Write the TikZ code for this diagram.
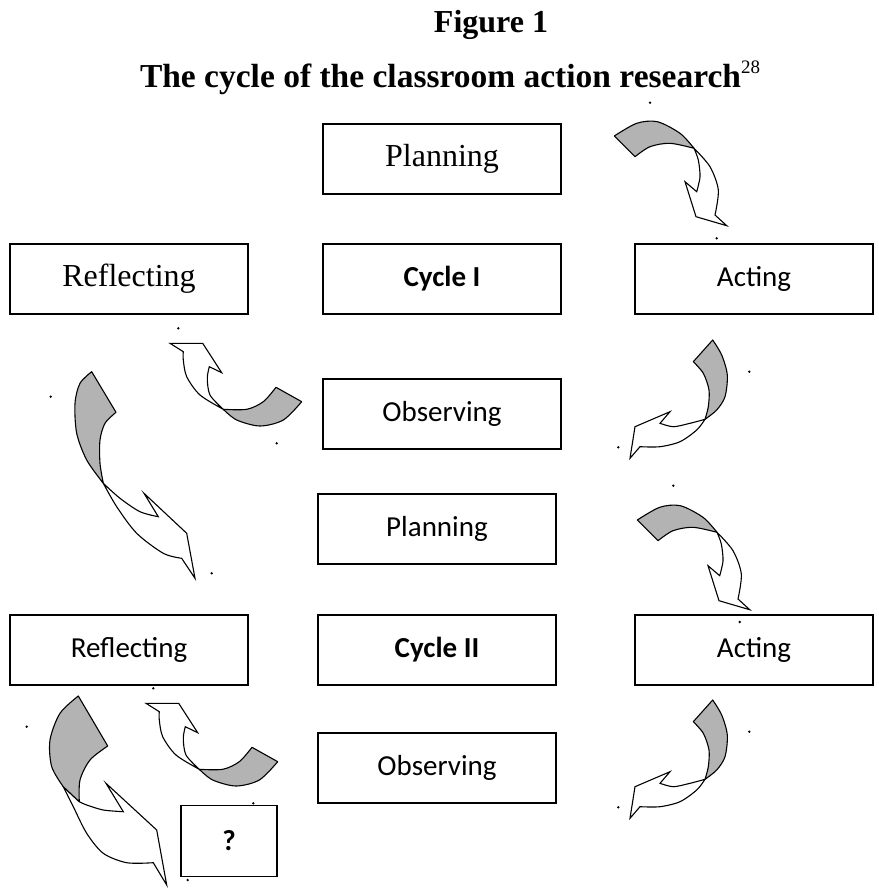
\documentclass[tikz,border=0pt]{standalone}
\usepackage{fontspec}
\setmainfont{Liberation Serif}
\newfontfamily\carlito{Carlito}
\definecolor{shade}{RGB}{179,179,179}
\tikzset{
  box/.style={draw, line width=1.3pt, minimum width=238pt, minimum height=70pt, inner sep=0pt},
  serifbox/.style={box, font=\fontsize{32}{36}\selectfont},
  sansbox/.style={box, font=\carlito\fontsize{29}{34}\selectfont},
  backside/.style={fill=shade, draw=black, line width=1.1pt, line join=round},
  frontside/.style={fill=white, draw=black, line width=1.1pt, line join=miter},
  dot/.style={fill=black}
}
\newcommand{\arrowdown}{%
  \path[frontside] (694,148.3) -- plot[smooth] coordinates {(694,148.3) (710,166.7) (718.3,190) (715,215)}
    -- (726.7,225.7) -- (696,216.7) -- (685,181.7) -- (696.7,191.7)
    -- plot[smooth] coordinates {(696.7,191.7) (700,176.7) (698.3,160) (694,148.3)} -- cycle;
  \path[backside] (614.3,136) -- plot[smooth] coordinates {(614.3,136) (636.7,123.3) (657.3,121.7) (680,133.3) (694,148.3)}
    -- plot[smooth] coordinates {(694,148.3) (670,143.3) (650,146.7) (635,156.7)} -- cycle;
}
\newcommand{\arrowup}{%
  \path[frontside] (223.3,409.3) -- plot[smooth] coordinates {(223.3,409.3) (200,395) (186.7,376.7) (183.3,360) (183.3,351.7)}
    -- (170,343.3) -- (202.7,343.3) -- (221.7,372.7) -- (209.3,366.7)
    -- plot[smooth] coordinates {(209.3,366.7) (207.3,378.3) (210,395) (223.3,409.3)} -- cycle;
  \path[backside] (276,387.3) -- (301.7,401.7)
    -- plot[smooth] coordinates {(301.7,401.7) (283.3,420) (260,426) (236.7,420) (223.3,409.3)}
    -- plot[smooth] coordinates {(223.3,409.3) (246.7,409.3) (263.3,401.7) (276,387.3)} -- cycle;
}
\newcommand{\arrowleft}{%
  \path[frontside] (705,419.3) -- plot[smooth] coordinates {(705,419.3) (696.7,430) (680,441.7) (660,446.7) (640,446.7)}
    -- (630,458.3) -- (635,426.7) -- (670,411.7) -- (660,423.3)
    -- plot[smooth] coordinates {(660,423.3) (673.3,426.7) (690,423.3) (705,419.3)} -- cycle;
  \path[backside] (712.7,340) -- plot[smooth] coordinates {(712.7,340) (721.7,355) (727.3,375) (725,396.7) (716.7,410) (705,419.3)}
    -- plot[smooth] coordinates {(705,419.3) (708.3,406.7) (709,390) (703.3,373.3) (693.3,361.7)} -- cycle;
}
\begin{document}
\begin{tikzpicture}[x=1pt,y=-1pt]
\useasboundingbox (0,0) rectangle (878,888);
% titles
\node[anchor=base, font=\bfseries\fontsize{32}{36}\selectfont] (fig) at (491,33) {Figure 1};
\node[anchor=base, font=\bfseries\fontsize{33.5}{38}\selectfont] (title) at (450,88)
  {The cycle of the classroom action research\raisebox{0.42em}{\mdseries\fontsize{19}{20}\selectfont 28}};
% boxes
\node[serifbox] (plan1) at (442,159) {Planning};
\node[serifbox] (refl1) at (129,279) {Reflecting};
\node[sansbox, font=\carlito\bfseries\fontsize{29}{34}\selectfont] (cyc1) at (442,279) {Cycle I};
\node[sansbox] (act1) at (754,279) {Acting};
\node[sansbox] (obs1) at (442,414) {Observing};
\node[sansbox] (plan2) at (437,529) {Planning};
\node[sansbox] (refl2) at (129,650) {Reflecting};
\node[sansbox, font=\carlito\bfseries\fontsize{29}{34}\selectfont] (cyc2) at (437,650) {Cycle II};
\node[sansbox] (act2) at (754,650) {Acting};
\node[sansbox] (obs2) at (437,768) {Observing};
\node[sansbox, font=\carlito\bfseries\fontsize{29}{34}\selectfont, minimum width=96pt, minimum height=71pt] (q) at (229,841) {?};
% curved arrows
\arrowdown
\begin{scope}[shift={(23,384)}]\arrowdown\end{scope}
\arrowup
\begin{scope}[shift={(-24,360)}]\arrowup\end{scope}
\arrowleft
\begin{scope}[shift={(0,360)}]\arrowleft\end{scope}
% big left arrow (cycle I)
\path[frontside] (103.3,483.3) -- plot[smooth] coordinates {(103.3,483.3) (116.7,506.7) (136.7,533.3) (163.3,553.3) (181.7,558.3)}
  -- (195,578.3) -- (186.7,533.3) -- (144,493.3) -- (158.3,516.7)
  -- plot[smooth] coordinates {(158.3,516.7) (140,511.7) (120,498.3) (103.3,483.3)} -- cycle;
\path[backside] (91.7,371.7) -- plot[smooth] coordinates {(91.7,371.7) (80,383.3) (75,403.3) (76.7,433.3) (86.7,460) (103.3,483.3)}
  -- plot[smooth] coordinates {(103.3,483.3) (100,463.3) (100,440) (105,423.3) (116,412.3)} -- cycle;
% big left arrow (cycle II)
\path[frontside] (63.3,786.7) -- plot[smooth] coordinates {(63.3,786.7) (73.3,806.7) (86.7,833.3) (103.3,853.3) (126.7,862.7) (153.3,862.7)}
  -- (166.7,885) -- (156.7,830) -- (106,783.3) -- (123.3,811.7)
  -- plot[smooth] coordinates {(123.3,811.7) (103.3,810) (86.7,805) (79.3,801.7)} -- cycle;
\path[backside] (78.3,696) -- plot[smooth] coordinates {(78.3,696) (60,713.3) (50,740) (51.7,766.7) (63.3,786.7)}
  -- (79.3,801.7) -- plot[smooth] coordinates {(79.3,801.7) (80,780) (90,760) (107.7,746)} -- cycle;
% stray anchor dots
\foreach \p in {(650,102.7),(716.7,238.3),(178.3,328.3),(276.7,443.3),(749.3,371.7),(618.3,447.3),
  (50.7,396.7),(211.7,573.3),(673.3,485.7),(739.7,622),(749.3,731.7),(618.3,807.3),
  (26.7,726.7),(187.7,880),(153.3,688.3),(253.3,803.3)}
  \fill[dot] \p circle (1.3);
\end{tikzpicture}
\end{document}
